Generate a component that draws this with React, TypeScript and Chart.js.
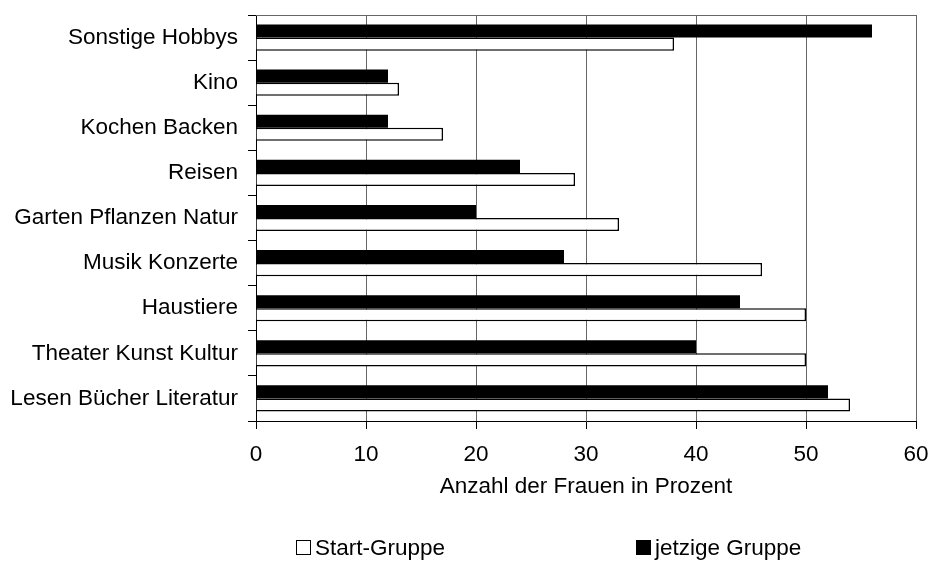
import React, { useEffect, useRef } from "react";
import { Chart, registerables } from "chart.js";

Chart.register(...registerables);

const categories = [
  "Sonstige Hobbys",
  "Kino",
  "Kochen Backen",
  "Reisen",
  "Garten Pflanzen Natur",
  "Musik Konzerte",
  "Haustiere",
  "Theater Kunst Kultur",
  "Lesen Bücher Literatur",
];
const jetzigeGruppe = [56, 12, 12, 24, 20, 28, 44, 40, 52];
const startGruppe = [38, 13, 17, 29, 33, 46, 50, 50, 54];
const xTicks = [0, 10, 20, 30, 40, 50, 60];
const xTitle = "Anzahl der Frauen in Prozent";
const legendLabels = ["Start-Gruppe", "jetzige Gruppe"];

const FONT = "'Liberation Sans', Arial, sans-serif";
const FS = 22.5;

const frameAndLegend = {
  id: "frameAndLegend",
  afterDraw(chart: any) {
    const { ctx, chartArea } = chart;
    ctx.save();
    // top frame line
    ctx.strokeStyle = "#666";
    ctx.lineWidth = 1;
    ctx.beginPath();
    ctx.moveTo(chartArea.left, Math.round(chartArea.top) + 0.5);
    ctx.lineTo(chartArea.right, Math.round(chartArea.top) + 0.5);
    ctx.stroke();

    // legend
    ctx.font = `${FS}px ${FONT}`;
    ctx.textBaseline = "alphabetic";
    ctx.textAlign = "left";
    const boxY = 540;
    const box = 14;
    // Start-Gruppe (hollow)
    ctx.fillStyle = "#fff";
    ctx.fillRect(296, boxY, box, box);
    ctx.strokeStyle = "#000";
    ctx.strokeRect(296.5, boxY + 0.5, box, box);
    ctx.fillStyle = "#000";
    ctx.fillText(legendLabels[0], 315, 555);
    // jetzige Gruppe (filled)
    ctx.fillRect(636, boxY, box + 1, box + 1);
    ctx.fillText(legendLabels[1], 655, 555);
    ctx.restore();
  },
};

export default function App() {
  const ref = useRef<HTMLCanvasElement>(null);
  useEffect(() => {
    document.body.style.margin = "0";
    const chart = new Chart(ref.current as HTMLCanvasElement, {
      type: "bar",
      data: {
        labels: categories,
        datasets: [
          {
            label: legendLabels[1],
            data: jetzigeGruppe,
            backgroundColor: "#000",
            borderColor: "#000",
            borderWidth: 0,
          },
          {
            label: legendLabels[0],
            data: startGruppe,
            backgroundColor: "#fff",
            borderColor: "#000",
            borderWidth: 1.5,
          },
        ],
      },
      options: {
        indexAxis: "y",
        responsive: false,
        animation: false,
        maintainAspectRatio: false,
        categoryPercentage: 0.58,
        barPercentage: 1.0,
        layout: { padding: { top: 15, right: 14, bottom: 56, left: 0 } },
        plugins: {
          legend: { display: false },
          tooltip: { enabled: false },
        },
        scales: {
          x: {
            min: 0,
            max: 60,
            afterBuildTicks: (scale: any) => {
              scale.ticks = xTicks.map((v) => ({ value: v }));
            },
            afterFit: (scale: any) => {
              scale.height = 84;
              scale.paddingLeft = 0;
              scale.paddingRight = 0;
              scale.paddingTop = 0;
              scale.paddingBottom = 0;
            },
            ticks: {
              color: "#000",
              font: { family: FONT, size: FS },
              padding: 12,
              maxRotation: 0,
            },
            grid: {
              color: "#666",
              lineWidth: 1,
              tickColor: "#000",
              tickLength: 8,
              drawOnChartArea: true,
            },
            border: { color: "#000", width: 1 },
            title: {
              display: true,
              text: xTitle,
              color: "#000",
              font: { family: FONT, size: FS },
              padding: { top: 0, bottom: 5 },
            },
          },
          y: {
            afterFit: (scale: any) => {
              scale.width = 256;
              scale.paddingLeft = 0;
              scale.paddingRight = 0;
              scale.paddingTop = 0;
              scale.paddingBottom = 0;
            },
            ticks: {
              color: "#000",
              font: { family: FONT, size: FS },
              padding: 10,
            },
            grid: {
              drawOnChartArea: false,
              tickColor: "#000",
              tickLength: 8,
              offset: true,
            },
            border: { color: "#000", width: 1 },
          },
        },
      },
      plugins: [frameAndLegend],
    });
    return () => chart.destroy();
  }, []);
  return (
    <div style={{ position: "absolute", left: 0, top: 0, width: 930, height: 561, background: "#fff" }}>
      <canvas ref={ref} width={930} height={561} />
    </div>
  );
}
